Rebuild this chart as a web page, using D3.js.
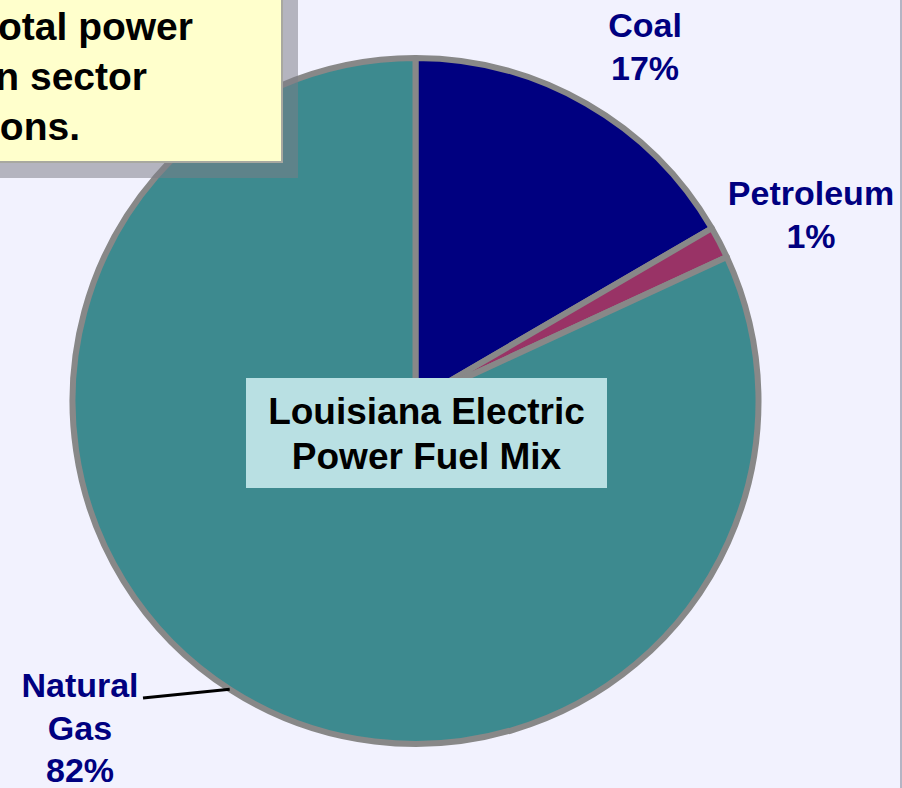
<!DOCTYPE html>
<html>
<head>
<meta charset="utf-8">
<script src="https://cdn.jsdelivr.net/npm/d3@7/dist/d3.min.js"></script>
<style>
  html, body { margin: 0; padding: 0; background: #f2f2fe; overflow: hidden; }
  svg { display: block; }
  text { font-family: "Liberation Sans", Arial, Helvetica, sans-serif; font-weight: bold; }
</style>
</head>
<body>
<script>
// ---- data ----
const categories = ["Coal", "Petroleum", "Natural Gas"];
const values = [16.6, 1.5, 81.9];
const percentLabels = ["17%", "1%", "82%"];
const nameLines = [["Coal"], ["Petroleum"], ["Natural", "Gas"]];
const colors = ["#000080", "#993366", "#3d8a8f"];
const titleLines = ["Louisiana Electric", "Power Fuel Mix"];
const noteLines = ["otal power", "n sector", "ons."];

// ---- layout ----
const W = 902, H = 788;
const cx = 415.5, cy = 401, R = 343;

const svg = d3.select("body").append("svg").attr("width", W).attr("height", H);
svg.append("rect").attr("width", W).attr("height", H).attr("fill", "#f2f2fe");
svg.append("rect").attr("x", W - 2).attr("y", 0).attr("width", 2).attr("height", H).attr("fill", "#b4b4c4");

const pie = d3.pie().sort(null).value(d => d.v);
const data = categories.map((c, i) => ({ c, v: values[i], i }));
const arcs = pie(data);
const arc = d3.arc().innerRadius(0).outerRadius(R);

const g = svg.append("g").attr("transform", `translate(${cx},${cy})`);
g.selectAll("path").data(arcs).join("path")
  .attr("d", arc)
  .attr("fill", d => colors[d.data.i])
  .attr("stroke", "#888888")
  .attr("stroke-width", 6)
  .attr("stroke-linejoin", "round");

// title box in the middle
const tb = { x: 246, y: 378, w: 361, h: 110 };
svg.append("rect").attr("x", tb.x).attr("y", tb.y).attr("width", tb.w).attr("height", tb.h).attr("fill", "#b9e0e3");
svg.append("text").attr("x", tb.x + tb.w / 2).attr("text-anchor", "middle")
  .attr("font-size", 37).attr("fill", "#000")
  .selectAll("tspan").data(titleLines).join("tspan")
  .attr("x", tb.x + tb.w / 2).attr("y", (d, i) => 424 + i * 45).text(d => d);

// category labels
const labelPos = [
  { x: 645, y: 37 },
  { x: 811, y: 205 },
  { x: 80, y: 697 }
];
const lineGap = 42.5;
arcs.forEach((a, i) => {
  const lines = nameLines[i].concat([percentLabels[i]]);
  const t = svg.append("text").attr("text-anchor", "middle").attr("fill", "#000080").attr("font-size", 34);
  lines.forEach((ln, k) => {
    t.append("tspan").attr("x", labelPos[i].x).attr("y", labelPos[i].y + k * lineGap).text(ln);
  });
});

// leader line for natural gas
const gasAngle = (212.8) * Math.PI / 180;
const edge = [cx + R * Math.sin(gasAngle), cy - R * Math.cos(gasAngle)];
svg.append("line").attr("x1", 143).attr("y1", 698).attr("x2", edge[0]).attr("y2", edge[1])
  .attr("stroke", "#000").attr("stroke-width", 3);

// note box (top-left, partially cut off)
const nb = { x: -20, y: -20, w: 302, h: 182, off: 16 };
svg.append("rect").attr("x", nb.x + nb.off).attr("y", nb.y + nb.off).attr("width", nb.w).attr("height", nb.h)
  .attr("fill", "rgb(125,125,135)").attr("fill-opacity", 0.53);
svg.append("rect").attr("x", nb.x).attr("y", nb.y).attr("width", nb.w).attr("height", nb.h)
  .attr("fill", "#ffffcc").attr("stroke", "#a8a8a0").attr("stroke-width", 2);
const noteRight = [193, 147, 80];
svg.append("text").attr("font-size", 39).attr("fill", "#000").attr("text-anchor", "end")
  .selectAll("tspan").data(noteLines).join("tspan")
  .attr("x", (d, i) => noteRight[i]).attr("y", (d, i) => 40 + i * 50).text(d => d);
</script>
</body>
</html>
